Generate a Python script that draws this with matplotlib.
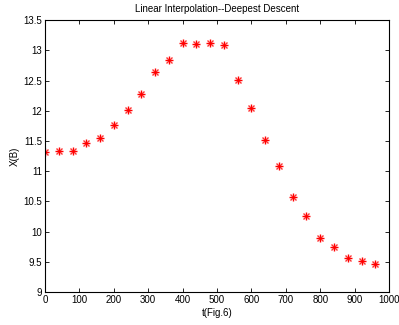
import matplotlib
matplotlib.use('Agg')
import matplotlib.pyplot as plt

t = [0, 40, 80, 120, 160, 200, 240, 280, 320, 360, 400, 440, 480,
     520, 560, 600, 640, 680, 720, 760, 800, 840, 880, 920, 960]
xb = [11.31, 11.33, 11.34, 11.47, 11.55, 11.76, 12.01, 12.27, 12.64, 12.84,
      13.13, 13.10, 13.12, 13.09, 12.51, 12.04, 11.52, 11.08, 10.58, 10.25,
      9.90, 9.75, 9.56, 9.52, 9.47]

plt.rcParams['font.family'] = ['Liberation Sans', 'DejaVu Sans']
plt.rcParams['font.size'] = 7

fig = plt.figure(figsize=(3.99, 3.25), dpi=100)
ax = fig.add_axes([0.1128, 0.1015, 0.8622, 0.8365])

# matlab-like asterisk: a plus and an x on top of each other
ax.plot(t, xb, 'x', color='red', markersize=4, markeredgewidth=1.0, alpha=0.8)
ax.plot(t, xb, '+', color='red', markersize=6, markeredgewidth=1.0)

ax.set_xlim(0, 1000)
ax.set_ylim(9, 13.5)
ax.set_xticks(range(0, 1001, 100))
ax.set_yticks([9, 9.5, 10, 10.5, 11, 11.5, 12, 12.5, 13, 13.5])
ax.set_yticklabels(['9', '9.5', '10', '10.5', '11', '11.5', '12', '12.5', '13', '13.5'])
ax.tick_params(direction='in', top=True, right=True, length=3, width=0.6, pad=2)
for s in ax.spines.values():
    s.set_linewidth(0.8)

ax.set_xlabel('t(Fig.6)', labelpad=2)
ax.set_ylabel('X(B)', labelpad=3)
ax.set_title('Linear Interpolation--Deepest Descent', fontsize=7, pad=6)

fig.savefig('out.png', dpi=100)
